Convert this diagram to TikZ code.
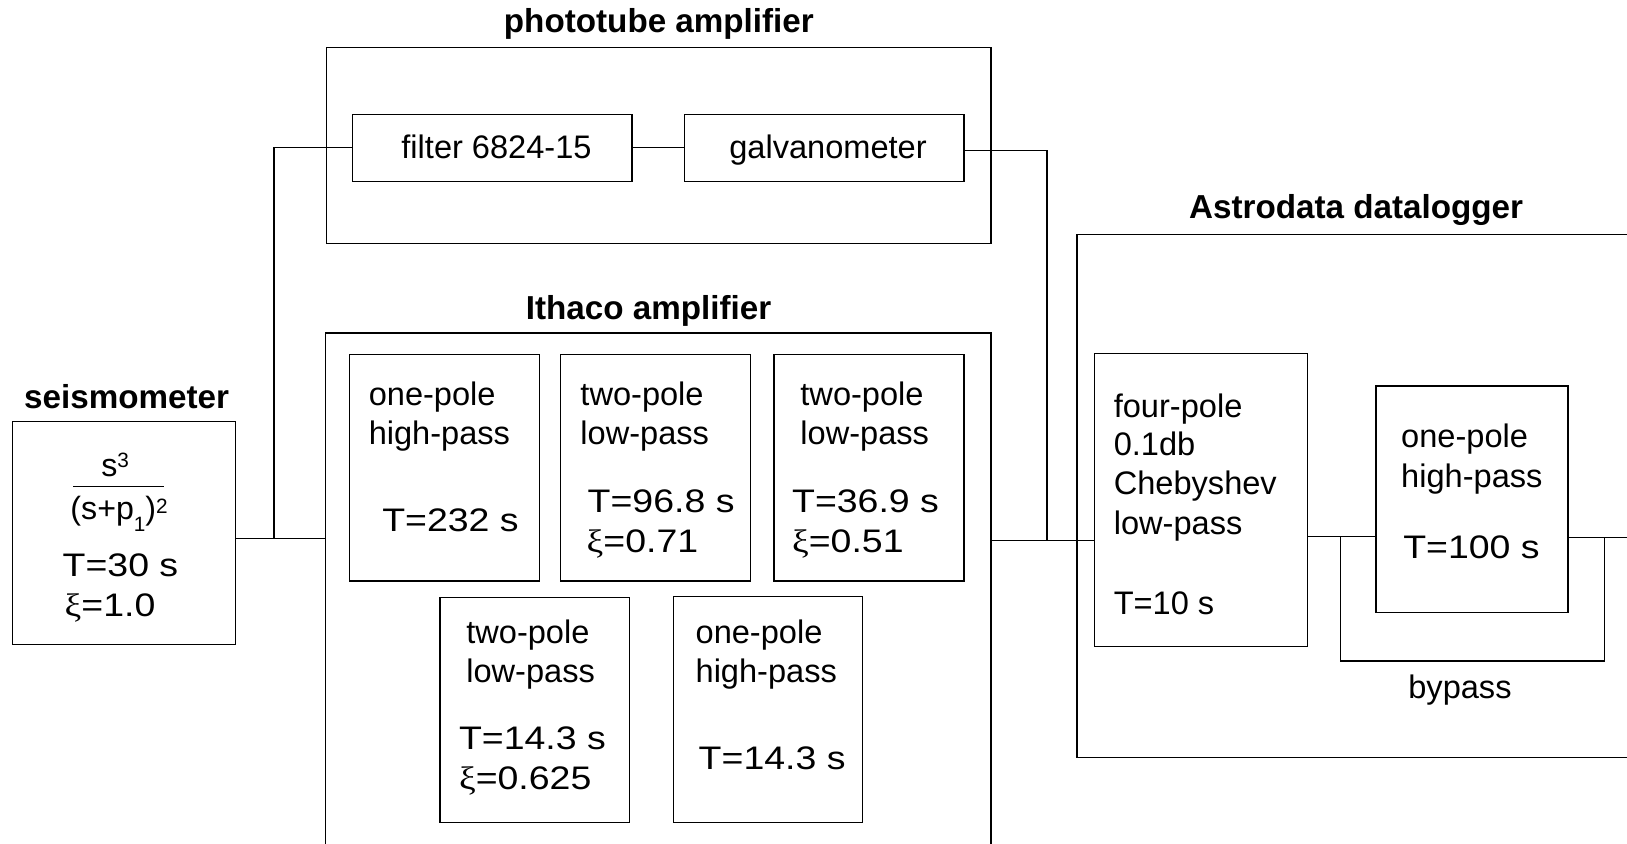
\documentclass[tikz,border=0pt]{standalone}
\usepackage{fontspec}
\setmainfont{Liberation Sans}
\newfontfamily\widef{Liberation Sans}[FakeStretch=1.15]
\newfontfamily\xif{Liberation Serif}[FakeStretch=1.15]
\usetikzlibrary{fit}
\newcommand{\boxline}[4]{\node[txt] (#1) at (#2,#3) {#4};}
\newcommand{\wline}[4]{\node[wtxt] (#1) at (#2,#3) {#4};}
\newcommand{\xii}{{\xif ξ}}
\newcommand{\supr}[2]{\raisebox{#1}{\fontsize{10}{10}\selectfont #2}}
\begin{document}
\begin{tikzpicture}[x=0.5pt,y=-0.5pt,
  box/.style={draw, line width=0.6pt, inner sep=0pt},
  wire/.style={line width=0.6pt},
  txt/.style={anchor=base west, inner sep=0pt, font=\fontsize{15.7}{18.5}\selectfont},
  wtxt/.style={anchor=base west, inner sep=0pt, font=\fontsize{15.7}{18.5}\selectfont\widef},
  ctxt/.style={anchor=base, inner sep=0pt, font=\fontsize{15.7}{18.5}\selectfont},
  title/.style={anchor=base, inner sep=0pt, font=\fontsize{16}{18.5}\selectfont\bfseries}]
\useasboundingbox (0,0) rectangle (1568,813);
\clip (0,0) rectangle (1568,813);
% boxes
\node[box, fit={(12,406)(227,621)}] (seis) {};
\node[box, fit={(315,46)(955,235)}] (photo) {};
\node[box, fit={(340,110)(609,175)}] (filt) {};
\node[box, fit={(660,110)(929,175)}] (galv) {};
\node[box, fit={(314,321)(955,840)}] (ith) {};
\node[box, fit={(337,342)(520,560)}] (b1) {};
\node[box, fit={(540,342)(723,560)}] (b2) {};
\node[box, fit={(746,342)(929,560)}] (b3) {};
\node[box, fit={(424,576)(607,793)}] (b4) {};
\node[box, fit={(649,575)(831,793)}] (b5) {};
\node[box, fit={(1038,226)(1590,730)}] (astro) {};
\node[box, fit={(1055,341)(1260,623)}] (four) {};
\node[box, fit={(1326,372)(1511,590)}] (hp) {};
% titles
\node[title] (tphoto) at (635,31) {phototube amplifier};
\node[title] (tith) at (625,308) {Ithaco amplifier};
\node[title] (tseis) at (122,394) {seismometer};
\node[title] (tastro) at (1307,211) {Astrodata datalogger};
% connectors
\coordinate (j1) at (264,519);
\coordinate (j2) at (1009,521);
\coordinate (j3) at (1292,517);
\coordinate (j4) at (1546,518);
\coordinate (jb) at (1292,637);
\coordinate (out) at (1580,518);
\draw[wire] (j1 -| seis.east) -- (j1 -| ith.west);
\draw[wire] (j1) |- (filt.west);
\draw[wire] (filt.east) -- (galv.west);
\draw[wire] (galv.east |- 0,145) -| (j2);
\draw[wire] (j2 -| ith.east) -- (j2 -| four.west);
\draw[wire] (j3 -| four.east) -- (j3 -| hp.west);
\draw[wire] (j3) -- (jb) -| (j4);
\draw[wire] (hp.east |- j4) -- (out);
\node[ctxt] (byp) at (1407,673) {bypass};
% phototube texts
\node[ctxt] (tfilt) at (478.5,153) {filter 6824-15};
\node[ctxt] (tgalv) at (798,153) {galvanometer};
% seismometer
\node[txt, font=\fontsize{15.5}{18}\selectfont] (num) at (97.3,458.8) {s\supr{4.2pt}{3}};
\draw[wire] (70.4,469) -- (158,469);
\node[txt, font=\fontsize{15.5}{18}\selectfont] (den) at (67.5,501) {(s+p\supr{-5.6pt}{1})\supr{3.2pt}{2}};
\wline{s1}{60}{556}{T=30 s}
\wline{s2}{62}{594}{\xii=1.0}
% Ithaco boxes
\boxline{a1}{355}{391}{one-pole}
\boxline{a2}{355}{428}{high-pass}
\wline{a3}{368}{512}{T=232 s}
\boxline{c1}{559}{391}{two-pole}
\boxline{c2}{559}{428}{low-pass}
\wline{c3}{566}{494}{T=96.8 s}
\wline{c4}{565}{532}{\xii=0.71}
\boxline{d1}{771}{391}{two-pole}
\boxline{d2}{771}{428}{low-pass}
\wline{d3}{763}{494}{T=36.9 s}
\wline{d4}{763}{532}{\xii=0.51}
\boxline{e1}{449}{620}{two-pole}
\boxline{e2}{449}{658}{low-pass}
\wline{e3}{442}{722}{T=14.3 s}
\wline{e4}{442}{761}{\xii=0.625}
\boxline{f1}{670}{620}{one-pole}
\boxline{f2}{670}{658}{high-pass}
\wline{f3}{673}{742}{T=14.3 s}
% Astrodata
\boxline{g1}{1073}{402}{four-pole}
\boxline{g2}{1073}{439}{0.1db}
\boxline{g3}{1073}{477}{Chebyshev}
\boxline{g4}{1073}{515}{low-pass}
\boxline{g5}{1073}{592}{T=10 s}
\boxline{h1}{1350}{431}{one-pole}
\boxline{h2}{1350}{470}{high-pass}
\wline{h3}{1352}{538}{T=100 s}
\end{tikzpicture}
\end{document}
